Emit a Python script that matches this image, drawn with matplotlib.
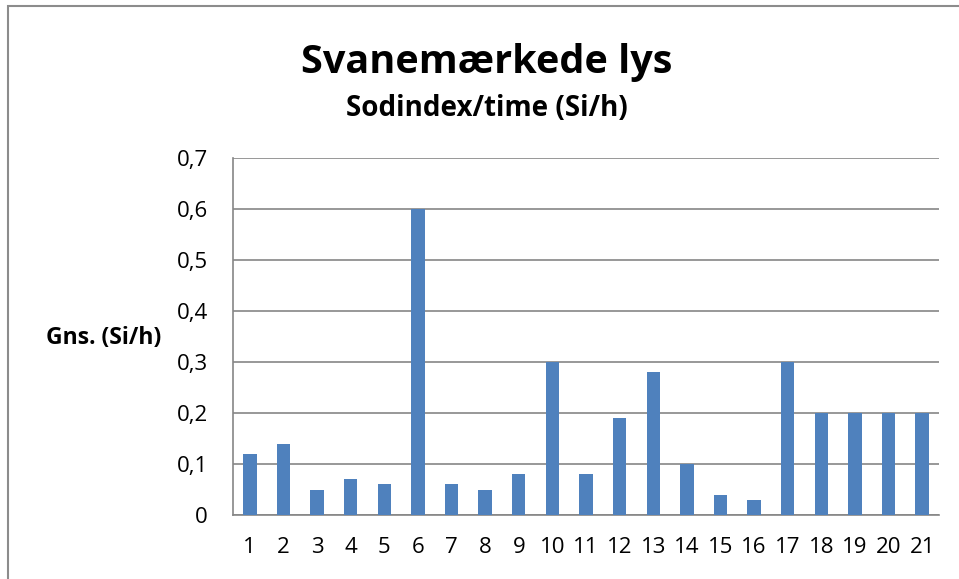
import matplotlib.pyplot as plt
import matplotlib.patches as patches
import numpy as np

plt.rcParams['font.family'] = ['Open Sans', 'DejaVu Sans']

kategorier = [str(i) for i in range(1, 22)]
vaerdier = [0.12, 0.14, 0.05, 0.07, 0.06, 0.60, 0.06, 0.05, 0.08, 0.30, 0.08,
            0.19, 0.28, 0.10, 0.04, 0.03, 0.30, 0.20, 0.20, 0.20, 0.20]
y_ticks = [0, 0.1, 0.2, 0.3, 0.4, 0.5, 0.6, 0.7]
y_labels = ['0', '0,1', '0,2', '0,3', '0,4', '0,5', '0,6', '0,7']

fig = plt.figure(figsize=(9.59, 5.79), dpi=100)
# outer chart frame (cut off at right and bottom)
fig.patches.append(patches.Rectangle((8 / 959, -0.05), 1.2, 1 - 6 / 579 + 0.05,
                                     transform=fig.transFigure, fill=False,
                                     edgecolor='#8c8c8c', linewidth=1.5))

ax = fig.add_axes([233 / 959, 64 / 579, 706 / 959, 357 / 579])
x = np.arange(len(kategorier))
ax.bar(x, vaerdier, width=0.4, color='#4f81bd', zorder=3)

ax.set_xlim(-0.5, len(kategorier) - 0.5)
ax.set_ylim(0, 0.7)
ax.set_yticks(y_ticks)
ax.set_yticklabels(y_labels)
ax.set_xticks(x)
ax.set_xticklabels(kategorier)
ax.tick_params(length=0, labelsize=16)
ax.tick_params(axis='y', pad=18)
ax.tick_params(axis='x', pad=16)
ax.grid(axis='y', color='#868686', linewidth=1.2, zorder=0)
for s in ['top', 'right']:
    ax.spines[s].set_visible(False)
for s in ['left', 'bottom']:
    ax.spines[s].set_color('#868686')
    ax.spines[s].set_linewidth(1.2)

fig.text(487 / 959, 1 - 62 / 579, 'Svanemærkede lys', ha='center', va='center',
         fontsize=28.5, fontweight='bold')
fig.text(487 / 959, 1 - 108 / 579, 'Sodindex/time (Si/h)', ha='center', va='center',
         fontsize=20, fontweight='bold')
fig.text(104 / 959, 1 - 338 / 579, 'Gns. (Si/h)', ha='center', va='center',
         fontsize=16.5, fontweight='bold')

fig.savefig('out.png', dpi=100)
